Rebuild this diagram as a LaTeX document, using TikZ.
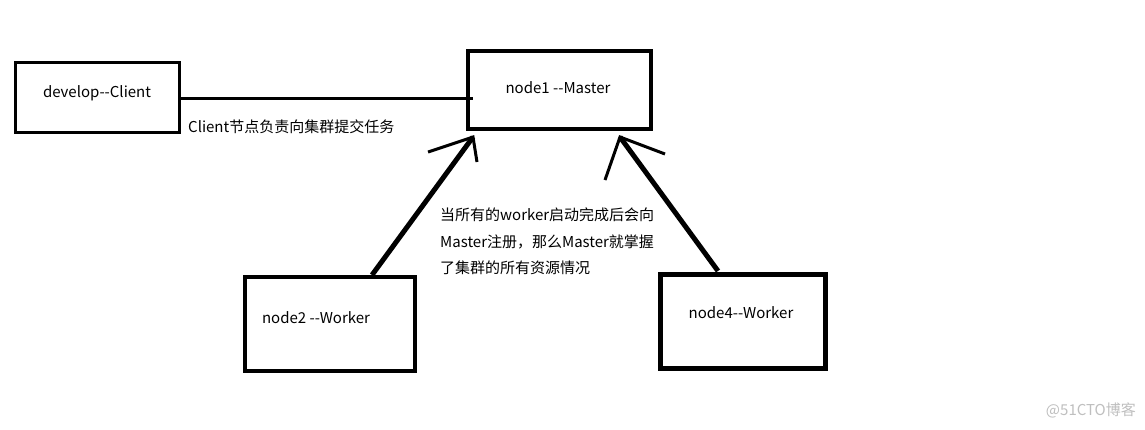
\documentclass[tikz,border=0pt]{standalone}
\usepackage{fontspec}
\setmainfont[Ligatures=TeXOff]{Noto Sans CJK SC}
\begin{document}
\begin{tikzpicture}[x=1pt,y=-1pt,
  lbl/.style={font=\fontsize{15}{17}\selectfont,inner sep=0},
  shaft/.style={line width=5pt,line cap=butt},
  head/.style={line width=3pt,line cap=butt}]
\useasboundingbox[fill=white] (0,0) rectangle (1145,429);
% boxes
\draw[line width=3pt] (15,62) rectangle (179,132);
\node[inner sep=0,minimum width=164pt,minimum height=70pt] (client) at (97,97) {};
\draw[line width=4.5pt] (468,51) rectangle (651,129);
\node[inner sep=0,minimum width=183pt,minimum height=78pt] (master) at (559.5,90) {};
\draw[line width=4.5pt] (245,277) rectangle (415,371);
\node[inner sep=0,minimum width=170pt,minimum height=94pt] (w2) at (330,324) {};
\draw[line width=5pt] (660,274) rectangle (825,368);
\node[inner sep=0,minimum width=165pt,minimum height=94pt] (w4) at (742.5,321) {};
% labels
\node[lbl] (tc) at (97,93) {develop-{}-Client};
\node[lbl] (tm) at (558,88) {node1 -{}-Master};
\node[lbl] (t2) at (316,318) {node2 -{}-Worker};
\node[lbl] (t4) at (741,313) {node4-{}-Worker};
% client connector
\coordinate (m1) at (473,98);
\draw[line width=3pt] (client.east |- m1) -- (m1);
\node[lbl,anchor=west] (cl) at (188,127) {Client节点负责向集群提交任务};
% arrow from node2
\coordinate (s2) at (372,275);
\coordinate (t1) at (473,137);
\coordinate (h1a) at (428,152);
\coordinate (h1b) at (477,162);
\draw[shaft] (s2) -- (t1);
\draw[head] (h1a) -- (t1) -- (h1b);
% arrow from node4
\coordinate (s4) at (718,271);
\coordinate (t3) at (620,137);
\coordinate (h3a) at (605,180);
\coordinate (h3b) at (665,154);
\draw[shaft] (s4) -- (t3);
\draw[head] (h3a) -- (t3) -- (h3b);
% explanatory text
\node[lbl,anchor=west] (e1) at (440,215) {当所有的worker启动完成后会向};
\node[lbl,anchor=west] (e2) at (440,242) {Master注册，那么Master就掌握};
\node[lbl,anchor=west] (e3) at (440,268) {了集群的所有资源情况};
% watermark
\node[lbl,anchor=east,text=black!25] (wm) at (1136,410) {@51CTO博客};
\end{tikzpicture}
\end{document}
